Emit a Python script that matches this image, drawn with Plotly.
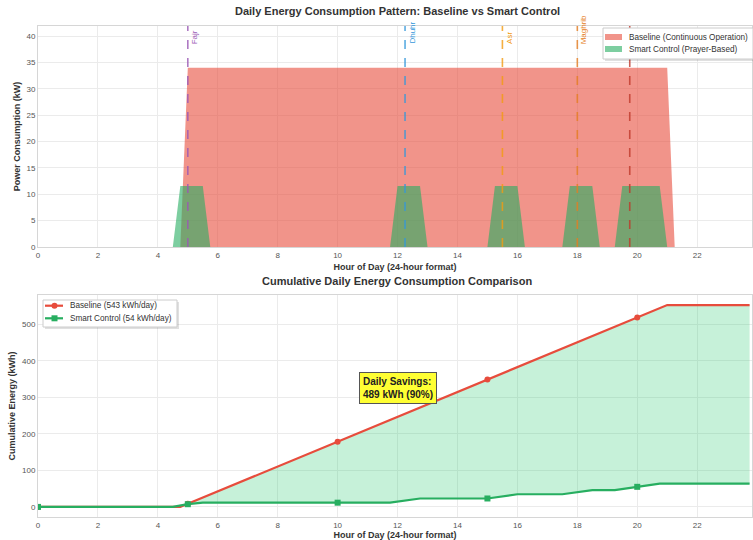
import plotly.graph_objects as go

# ---------------- data ----------------
# Top panel: instantaneous power (kW), breakpoints of the profiles
baseline_power_t = [0, 4.75, 5.0, 21.0, 21.25, 23.75]
baseline_power_kw = [0, 0, 34, 34, 0, 0]

smart_power_t = [0, 4.5, 4.75, 5.5, 5.75, 11.75, 12.0, 12.75, 13.0, 15.0, 15.25, 16.0, 16.25,
                 17.5, 17.75, 18.5, 18.75, 19.25, 19.5, 20.75, 21.0, 23.75]
smart_power_kw = [0, 0, 11.56, 11.56, 0, 0, 11.56, 11.56, 0, 0, 11.56, 11.56, 0,
                  0, 11.56, 11.56, 0, 0, 11.56, 11.56, 0, 0]

prayer_names = ["Fajr", "Dhuhr", "Asr", "Maghrib", "Isha"]
prayer_hours = [5.0, 12.25, 15.5, 18.0, 19.75]
prayer_colors = ["#9b59b6", "#3498db", "#f39c12", "#e67e22", "#c0392b"]
prayer_label_shown = [True, True, True, True, False]  # Isha label hidden behind legend

# Bottom panel: cumulative energy (kWh)
baseline_cum_t = [0, 4.75, 5, 10, 15, 20, 21, 23.75]
baseline_cum_kwh = [0, 0, 8.5, 178.5, 348.5, 518.5, 552.5, 552.5]
smart_cum_t = [0, 4.5, 5.0, 5.5, 11.75, 12.75, 15.0, 16.0, 17.5, 18.5, 19.25, 20.0, 20.75, 23.75]
smart_cum_kwh = [0, 0, 7.4, 11.6, 11.6, 23.1, 23.1, 34.7, 34.7, 46.2, 46.2, 55.0, 63.6, 63.6]

marker_hours = [0, 5, 10, 15, 20]
baseline_marker_kwh = [0, 8.5, 178.5, 348.5, 518.5]
smart_marker_kwh = [0, 7.4, 11.6, 23.1, 55.0]

top_legend_labels = ["Baseline (Continuous Operation)", "Smart Control (Prayer-Based)"]
bottom_legend_labels = ["Baseline (543 kWh/day)", "Smart Control (54 kWh/day)"]
savings_text = "Daily Savings:<br>489 kWh (90%)"
x_ticks = [0, 2, 4, 6, 8, 10, 12, 14, 16, 18, 20, 22]

# ---------------- figure ----------------
W, H = 753, 540
FONT = "Liberation Sans, Arial, sans-serif"
RED = "#e74c3c"
GREEN = "#27ae60"
RED_FILL = "rgba(231,76,60,0.6)"
GREEN_FILL = "rgba(39,174,96,0.6)"


def px(x):
    return x / W


def py(y):
    return 1 - y / H


fig = go.Figure()

# Top panel
fig.add_trace(go.Scatter(
    x=baseline_power_t, y=baseline_power_kw, mode="lines", fill="tozeroy",
    fillcolor=RED_FILL, line=dict(width=0), name=top_legend_labels[0],
    xaxis="x", yaxis="y", showlegend=False, hoverinfo="skip"))
fig.add_trace(go.Scatter(
    x=smart_power_t, y=smart_power_kw, mode="lines", fill="tozeroy",
    fillcolor=GREEN_FILL, line=dict(width=0), name=top_legend_labels[1],
    xaxis="x", yaxis="y", showlegend=False, hoverinfo="skip"))

shapes = []
annotations = []
for name, h, c, show in zip(prayer_names, prayer_hours, prayer_colors, prayer_label_shown):
    shapes.append(dict(type="line", xref="x", yref="y domain", x0=h, x1=h, y0=0, y1=1,
                       line=dict(color=c, width=1.6, dash="dash"), opacity=0.8))
    if show:
        annotations.append(dict(x=h, y=38.1, xref="x", yref="y", text=name, textangle=-90,
                                showarrow=False, xanchor="left", yanchor="bottom",
                                font=dict(family=FONT, size=8, color=c)))

# Bottom panel: fill between
fig.add_trace(go.Scatter(
    x=baseline_cum_t, y=baseline_cum_kwh, mode="lines", line=dict(width=0),
    showlegend=False, xaxis="x2", yaxis="y2", hoverinfo="skip"))
fig.add_trace(go.Scatter(
    x=smart_cum_t, y=smart_cum_kwh, mode="lines", line=dict(width=0), fill="tonexty",
    fillcolor="rgba(46,204,113,0.27)", showlegend=False, xaxis="x2", yaxis="y2",
    hoverinfo="skip"))

# Lines and markers
fig.add_trace(go.Scatter(
    x=baseline_cum_t, y=baseline_cum_kwh, mode="lines", line=dict(width=2.2, color=RED),
    name=bottom_legend_labels[0], showlegend=False, xaxis="x2", yaxis="y2", hoverinfo="skip"))
fig.add_trace(go.Scatter(
    x=marker_hours, y=baseline_marker_kwh, mode="markers",
    marker=dict(symbol="circle", size=6, color=RED),
    showlegend=False, xaxis="x2", yaxis="y2", hoverinfo="skip"))
fig.add_trace(go.Scatter(
    x=smart_cum_t, y=smart_cum_kwh, mode="lines", line=dict(width=2.2, color=GREEN),
    name=bottom_legend_labels[1], showlegend=False, xaxis="x2", yaxis="y2", hoverinfo="skip"))
fig.add_trace(go.Scatter(
    x=marker_hours, y=smart_marker_kwh, mode="markers",
    marker=dict(symbol="square", size=6, color=GREEN),
    showlegend=False, xaxis="x2", yaxis="y2", hoverinfo="skip"))

annotations.append(dict(x=12.0, y=326, xref="x2", yref="y2", text="<b>" + savings_text + "</b>",
                        showarrow=False, align="left", bgcolor="#ffff33",
                        bordercolor="#555555", borderwidth=1, borderpad=3,
                        font=dict(family=FONT, size=10, color="#222222")))

# ---- Legends (drawn as boxes with swatches and text) ----
legend_font = dict(family=FONT, size=8.2, color="#333333")
# top legend
shapes.append(dict(type="rect", xref="paper", yref="paper", x0=px(605), x1=px(755),
                   y0=py(61), y1=py(30), fillcolor="rgba(0,0,0,0.12)", line=dict(width=0)))
shapes.append(dict(type="rect", xref="paper", yref="paper", x0=px(603), x1=px(753),
                   y0=py(59), y1=py(28), fillcolor="white", line=dict(color="#cccccc", width=1)))
for i, (lab, col) in enumerate(zip(top_legend_labels, [RED_FILL, GREEN_FILL])):
    yc = 37 + 12 * i
    shapes.append(dict(type="rect", xref="paper", yref="paper", x0=px(605), x1=px(622),
                       y0=py(yc + 3), y1=py(yc - 3), fillcolor=col, line=dict(width=0)))
    annotations.append(dict(x=px(627), y=py(yc), xref="paper", yref="paper", text=lab,
                            showarrow=False, xanchor="left", yanchor="middle", font=legend_font))
# bottom legend
shapes.append(dict(type="rect", xref="paper", yref="paper", x0=px(45), x1=px(179),
                   y0=py(329), y1=py(302), fillcolor="rgba(0,0,0,0.12)", line=dict(width=0)))
shapes.append(dict(type="rect", xref="paper", yref="paper", x0=px(43), x1=px(177),
                   y0=py(327), y1=py(300), fillcolor="white", line=dict(color="#cccccc", width=1)))
for i, (lab, col, sym) in enumerate(zip(bottom_legend_labels, [RED, GREEN], ["circle", "square"])):
    yc = 305.7 + 12.6 * i
    shapes.append(dict(type="line", xref="paper", yref="paper", x0=px(45), x1=px(63),
                       y0=py(yc), y1=py(yc), line=dict(color=col, width=2.2)))
    shapes.append(dict(type=sym if sym == "circle" else "rect", xref="paper", yref="paper",
                       x0=px(51.5), x1=px(57.5), y0=py(yc + 3), y1=py(yc - 3),
                       fillcolor=col, line=dict(width=0)))
    annotations.append(dict(x=px(68), y=py(yc), xref="paper", yref="paper", text=lab,
                            showarrow=False, xanchor="left", yanchor="middle", font=legend_font))

# Titles
annotations.append(dict(x=px(397), y=py(11), xref="paper", yref="paper", yanchor="middle",
                        text="<b>Daily Energy Consumption Pattern: Baseline vs Smart Control</b>",
                        showarrow=False, font=dict(family=FONT, size=11, color="#333333")))
annotations.append(dict(x=px(397), y=py(281), xref="paper", yref="paper", yanchor="middle",
                        text="<b>Cumulative Daily Energy Consumption Comparison</b>",
                        showarrow=False, font=dict(family=FONT, size=11, color="#333333")))

axis_common = dict(
    showgrid=True, gridcolor="#ebebeb", gridwidth=1, zeroline=False,
    showline=True, linecolor="#d6d6d6", linewidth=1, mirror=True, automargin=False,
    ticks="", tickfont=dict(family=FONT, size=8, color="#555555"),
)
title_font = dict(family=FONT, size=9, color="#333333")

fig.update_layout(
    width=W, height=H,
    margin=dict(l=0, r=0, t=0, b=0),
    paper_bgcolor="white", plot_bgcolor="white",
    showlegend=False, hovermode=False,
    shapes=shapes, annotations=annotations,
    xaxis=dict(domain=[px(38), px(752)], anchor="y", range=[0, 23.83],
               tickmode="array", tickvals=x_ticks,
               title=dict(text="<b>Hour of Day (24-hour format)</b>", font=title_font, standoff=5),
               **axis_common),
    yaxis=dict(domain=[py(247), py(26)], anchor="x", range=[0, 41.9],
               tickmode="array", tickvals=[0, 5, 10, 15, 20, 25, 30, 35, 40],
               title=dict(text="<b>Power Consumption (kW)</b>", font=title_font, standoff=4),
               **axis_common),
    xaxis2=dict(domain=[px(38), px(752)], anchor="y2", range=[0, 23.83],
                tickmode="array", tickvals=x_ticks,
                title=dict(text="<b>Hour of Day (24-hour format)</b>", font=title_font, standoff=5),
                **axis_common),
    yaxis2=dict(domain=[py(517), py(295)], anchor="x2", range=[-27.6, 580],
                tickmode="array", tickvals=[0, 100, 200, 300, 400, 500],
                title=dict(text="<b>Cumulative Energy (kWh)</b>", font=title_font, standoff=4),
                **axis_common),
)

fig.write_html(
    "out.html",
    config={"displayModeBar": False},
    post_script="document.documentElement.style.margin='0';document.body.style.margin='0';"
                "document.body.style.overflow='hidden';",
)
